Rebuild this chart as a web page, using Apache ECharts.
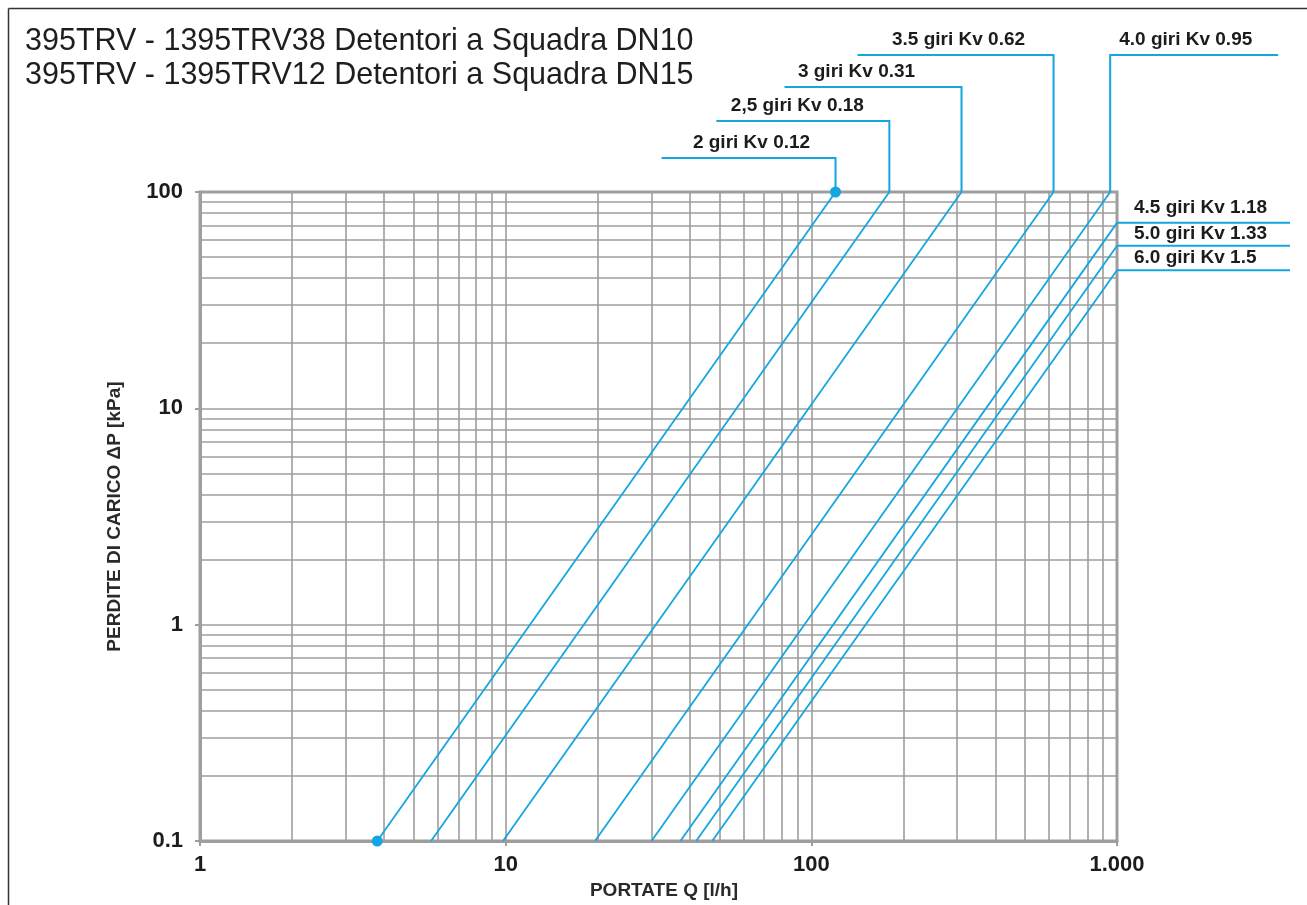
<!DOCTYPE html>
<html>
<head>
<meta charset="utf-8">
<script src="https://cdn.jsdelivr.net/npm/echarts@6/dist/echarts.min.js"></script>
<style>
html,body{margin:0;padding:0;background:#fff;}
#chart{width:1307px;height:905px;}
</style>
</head>
<body>
<div id="chart"></div>
<script>
// ---- data ----
const titleLines = [
  '395TRV - 1395TRV38 Detentori a Squadra DN10',
  '395TRV - 1395TRV12 Detentori a Squadra DN15'
];
const seriesNames = [
  '2 giri Kv 0.12', '2,5 giri Kv 0.18', '3 giri Kv 0.31', '3.5 giri Kv 0.62',
  '4.0 giri Kv 0.95', '4.5 giri Kv 1.18', '5.0 giri Kv 1.33', '6.0 giri Kv 1.5'
];
// start point of each line (Q l/h, dP kPa)
const flowStart = [3.8, 5.7, 9.8, 19.6, 30, 37.3, 42, 47.4];
const dpStart   = [0.1, 0.1, 0.1, 0.1, 0.1, 0.1, 0.1, 0.1];
// end point of each line
const flowEnd = [120, 180, 310, 620, 950, 1000, 1000, 1000];
const dpEnd   = [100, 100, 100, 100, 100, 72, 56.5, 43.5];
const xAxisName = 'PORTATE Q [l/h]';
const yAxisName = 'PERDITE DI CARICO ΔP [kPa]';
const xRange = [1, 1000];
const yRange = [0.1, 100];
const minorSteps = [2, 3, 4, 5, 6, 7, 8, 9];

// ---- layout / style ----
const FONT = 'Liberation Sans, Arial, Helvetica, sans-serif';
const BLUE = '#14a6e1';
const GRIDC = '#9e9e9e';
const TXT = '#1c1c1c';
// leader layout for each label: top labels rise to lineY; right labels run horizontally
const leaderLayout = [
  {side: 'top', lineY: 158, lineLeft: 174, lineRight: 0, textDx: -84, align: 'center'},
  {side: 'top', lineY: 121, lineLeft: 173, lineRight: 0, textDx: -92, align: 'center'},
  {side: 'top', lineY: 87,  lineLeft: 177, lineRight: 0, textDx: -105, align: 'center'},
  {side: 'top', lineY: 55,  lineLeft: 196, lineRight: 0, textDx: -95, align: 'center'},
  {side: 'top', lineY: 55,  lineLeft: 0, lineRight: 168, textDx: 9, align: 'left'},
  {side: 'right', lineLen: 173, textDx: 17, textDy: -15},
  {side: 'right', lineLen: 173, textDx: 17, textDy: -12},
  {side: 'right', lineLen: 173, textDx: 17, textDy: -12}
];

function decadeMinors(lo, hi) {
  const out = [];
  for (let d = lo; d < hi - 1e-12; d *= 10) {
    minorSteps.forEach(m => out.push(+(d * m).toPrecision(6)));
  }
  return out;
}
const minorX = decadeMinors(xRange[0], xRange[1]);
const minorY = decadeMinors(yRange[0], yRange[1]);

const chart = echarts.init(document.getElementById('chart'), null, {renderer: 'canvas'});

const lineSeries = seriesNames.map((name, i) => ({
  name: name,
  type: 'line',
  data: [[flowStart[i], dpStart[i]], [flowEnd[i], dpEnd[i]]],
  symbol: i === 0 ? 'circle' : 'none',
  symbolSize: 11,
  showSymbol: i === 0,
  itemStyle: {color: BLUE},
  lineStyle: {color: BLUE, width: 1.8},
  z: 5,
  silent: true,
  animation: false
}));

const gridSeries = {
  name: 'minorGrid',
  type: 'line',
  data: [],
  silent: true,
  animation: false,
  z: 1,
  markLine: {
    silent: true,
    animation: false,
    symbol: ['none', 'none'],
    label: {show: false},
    lineStyle: {type: 'solid', color: GRIDC, width: 1.6},
    data: minorX.map(v => ({xAxis: v})).concat(minorY.map(v => ({yAxis: v})))
  }
};

const axisLabelStyle = {fontFamily: FONT, fontWeight: 'bold', fontSize: 22, color: TXT};

chart.setOption({
  backgroundColor: '#fff',
  animation: false,
  title: {
    text: titleLines.join('\n'),
    left: 25, top: 25, padding: 0,
    textStyle: {fontFamily: FONT, fontWeight: 'normal', fontSize: 30.5, color: '#1e1e1e', lineHeight: 34}
  },
  grid: {
    left: 200, top: 192, width: 917, height: 652,
    show: true, borderColor: GRIDC, borderWidth: 3, containLabel: false
  },
  xAxis: {
    type: 'log', logBase: 10, min: xRange[0], max: xRange[1],
    name: xAxisName, nameLocation: 'middle', nameGap: 33,
    nameTextStyle: {fontFamily: FONT, fontWeight: 'bold', fontSize: 19, color: '#2a2a2a', padding: [0, 0, 0, 11]},
    axisLine: {show: true, lineStyle: {color: GRIDC, width: 3}},
    axisTick: {show: true, length: 5, lineStyle: {color: GRIDC, width: 2}},
    axisLabel: Object.assign({margin: 13, formatter: v => (Math.abs(v - 1000) < 1e-6 ? '1.000' : String(+v.toPrecision(6)))}, axisLabelStyle),
    splitLine: {show: true, lineStyle: {color: GRIDC, width: 1.6}},
    minorTick: {show: false}
  },
  yAxis: {
    type: 'log', logBase: 10, min: yRange[0], max: yRange[1],
    name: yAxisName, nameLocation: 'middle', nameGap: 76, nameRotate: 90,
    nameTextStyle: {fontFamily: FONT, fontWeight: 'bold', fontSize: 19, color: '#2a2a2a'},
    axisLine: {show: true, onZero: false, lineStyle: {color: GRIDC, width: 3}},
    axisTick: {show: true, length: 5, lineStyle: {color: GRIDC, width: 2}},
    axisLabel: Object.assign({margin: 17, formatter: v => String(+v.toPrecision(6))}, axisLabelStyle),
    splitLine: {show: true, lineStyle: {color: GRIDC, width: 1.6}}
  },
  series: [gridSeries].concat(lineSeries)
});

// ---- leaders and labels, anchored to line end points through the chart's scales ----
const graphics = [];
// page frame
graphics.push({type: 'line', shape: {x1: 8.5, y1: 8.5, x2: 1307, y2: 8.5}, style: {stroke: '#333', lineWidth: 1.5}, silent: true});
graphics.push({type: 'line', shape: {x1: 8.5, y1: 8.5, x2: 8.5, y2: 905}, style: {stroke: '#333', lineWidth: 1.5}, silent: true});

seriesNames.forEach((name, i) => {
  const p = chart.convertToPixel({xAxisIndex: 0, yAxisIndex: 0}, [flowEnd[i], dpEnd[i]]);
  const L = leaderLayout[i];
  if (L.side === 'top') {
    const xl = p[0] - L.lineLeft, xr = p[0] + L.lineRight;
    graphics.push({type: 'polyline', silent: true, z: 10,
      shape: {points: [[p[0], p[1]], [p[0], L.lineY], L.lineLeft > 0 ? [xl, L.lineY] : [xr, L.lineY]]},
      style: {stroke: BLUE, lineWidth: 2, fill: null}});
    graphics.push({type: 'text', silent: true, z: 10,
      x: p[0] + L.textDx, y: L.lineY - 15,
      style: {text: name, fill: TXT, font: 'bold 19px ' + FONT, align: L.align, verticalAlign: 'middle'}});
  } else {
    graphics.push({type: 'line', silent: true, z: 10,
      shape: {x1: p[0], y1: p[1], x2: p[0] + L.lineLen, y2: p[1]},
      style: {stroke: BLUE, lineWidth: 2}});
    graphics.push({type: 'text', silent: true, z: 10,
      x: p[0] + L.textDx, y: p[1] + L.textDy,
      style: {text: name, fill: TXT, font: 'bold 19px ' + FONT, align: 'left', verticalAlign: 'middle'}});
  }
});
chart.setOption({graphic: graphics});
</script>
</body>
</html>
